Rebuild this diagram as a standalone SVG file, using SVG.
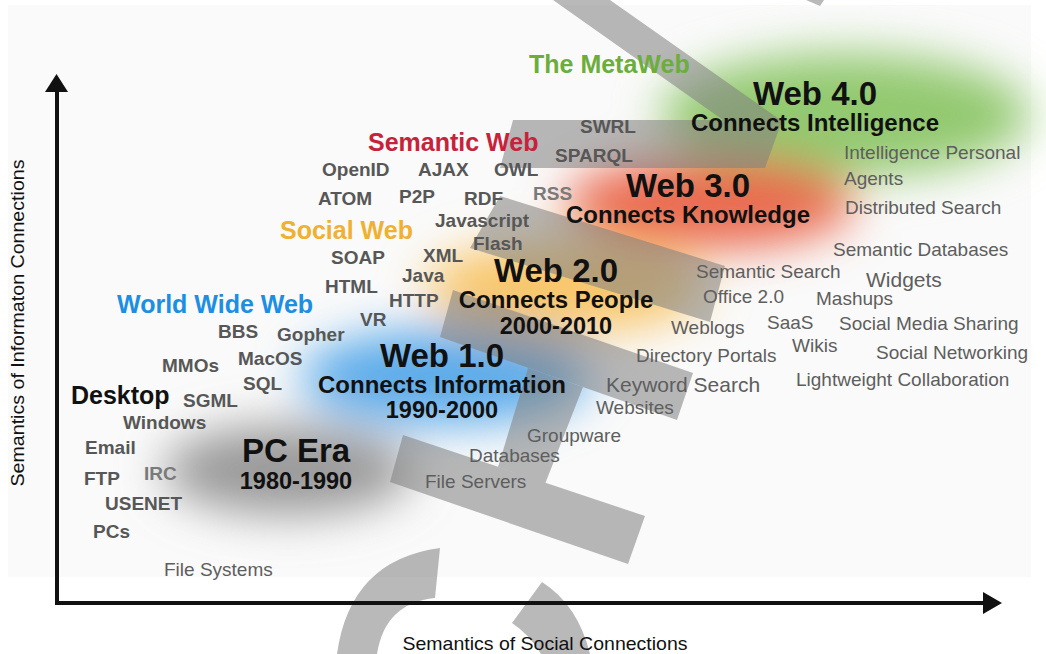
<svg xmlns="http://www.w3.org/2000/svg" width="1046" height="654" viewBox="0 0 1046 654">
<defs>
<filter id="blur" x="-60%" y="-100%" width="220%" height="300%"><feGaussianBlur stdDeviation="23"/></filter>
<style>
text{font-family:"Liberation Sans",Arial,Helvetica,sans-serif}
.era{font-weight:bold;font-size:25px}
.big{font-weight:bold;font-size:33px;fill:#111;text-anchor:middle}
.sub{font-weight:bold;font-size:24px;fill:#111;text-anchor:middle}
.yr{font-weight:bold;font-size:23.5px;fill:#111;text-anchor:middle}
.tag{font-weight:bold;font-size:19px;fill:#575757}
.lbl{font-size:19px;fill:#5e5e5e}
.lg{font-size:21px}
.lt{fill:#7a7a7a}
.axis{font-size:18.5px;fill:#111}
</style>
</defs>
<rect x="0" y="0" width="1046" height="654" fill="#ffffff"/>
<rect x="8" y="5" width="1023" height="572" fill="#fafafa"/>

<g id="blobs" filter="url(#blur)">
<ellipse cx="288" cy="470" rx="125" ry="45" fill="#9a9a9a"/>
<ellipse cx="445" cy="377" rx="145" ry="48" fill="#5dacea"/>
<ellipse cx="565" cy="287" rx="140" ry="46" fill="#f8c66a"/>
<ellipse cx="845" cy="115" rx="185" ry="62" fill="#93c96f"/>
<ellipse cx="710" cy="203" rx="145" ry="46" fill="#ea6a50"/>
</g>

<g id="watermark" opacity="0.55" fill="#808080">
<path d="M513,120 L723,120 L553,0 L610,0 L782,121 L765,168 L500,168 Z"/>
<path d="M806,0 L824,0 L820,6 Z"/>
<path d="M500,196 L725,266 L710,322 L470,248 Z"/>
<path d="M453,290 L693,373 L677,420 L440,337 Z"/>
<path d="M528,368 L583,387 L545,484 L498,467 Z"/>
<path d="M403,435 L645,516 L628,564 L390,482 Z"/>
<path d="M440,548 Q350,560 337,654 L377,654 Q385,603 435,598 Z"/>
<path d="M542,582 Q578,605 590,654 L541,654 Q530,635 512,623 Z"/>
</g>

<g id="connectors">
<line x1="57" y1="603" x2="57" y2="90" stroke="#111" stroke-width="4"/>
<polygon points="45,92 68,92 56.5,74" fill="#111"/>
<line x1="55" y1="603" x2="985" y2="603" stroke="#111" stroke-width="4"/>
<polygon points="983,592 983,614 1002,603" fill="#111"/>
</g>

<g id="axis-labels">
<text class="axis" x="545" y="650" text-anchor="middle" textLength="285" lengthAdjust="spacingAndGlyphs">Semantics of Social Connections</text>
<text class="axis" transform="translate(24,323) rotate(-90)" x="0" y="0" text-anchor="middle" textLength="327" lengthAdjust="spacingAndGlyphs">Semantics of Informaton Connections</text>
</g>

<g id="web40">
<text class="era" x="529" y="73" fill="#6cad3c">The MetaWeb</text>
<text class="big" x="815" y="105">Web 4.0</text>
<text class="sub" x="815" y="131">Connects Intelligence</text>
<text class="lbl" x="844" y="159">Intelligence Personal</text>
<text class="lbl" x="844" y="185">Agents</text>
<text class="lbl" x="845" y="214">Distributed Search</text>
</g>

<g id="web30">
<text class="era" x="368" y="151" fill="#c8213a">Semantic Web</text>
<text class="big" x="688" y="197">Web 3.0</text>
<text class="sub" x="688" y="223">Connects Knowledge</text>
<text class="tag" x="580" y="133">SWRL</text>
<text class="tag" x="555" y="162">SPARQL</text>
<text class="tag" x="322" y="176">OpenID</text>
<text class="tag" x="418" y="176">AJAX</text>
<text class="tag" x="494" y="176">OWL</text>
<text class="tag" x="318" y="205">ATOM</text>
<text class="tag" x="399" y="203">P2P</text>
<text class="tag" x="464" y="205">RDF</text>
<text class="tag lt" x="533" y="200">RSS</text>
<text class="lbl" x="833" y="256">Semantic Databases</text>
<text class="lbl" x="696" y="278">Semantic Search</text>
<text class="lbl lg" x="866" y="287">Widgets</text>
</g>

<g id="web20">
<text class="era" x="280" y="239" fill="#f0b032">Social Web</text>
<text class="big" x="556" y="282">Web 2.0</text>
<text class="sub" x="556" y="308">Connects People</text>
<text class="yr" x="556" y="334">2000-2010</text>
<text class="tag" x="435" y="227">Javascript</text>
<text class="tag" x="473" y="250">Flash</text>
<text class="tag" x="331" y="264">SOAP</text>
<text class="tag" x="423" y="262">XML</text>
<text class="tag" x="402" y="282">Java</text>
<text class="tag" x="325" y="293">HTML</text>
<text class="tag" x="389" y="307">HTTP</text>
<text class="lbl" x="703" y="303">Office 2.0</text>
<text class="lbl" x="816" y="305">Mashups</text>
<text class="lbl" x="767" y="329">SaaS</text>
<text class="lbl" x="839" y="330">Social Media Sharing</text>
<text class="lbl" x="671" y="334">Weblogs</text>
<text class="lbl" x="792" y="352">Wikis</text>
<text class="lbl" x="876" y="359">Social Networking</text>
<text class="lbl" x="636" y="362">Directory Portals</text>
<text class="lbl" x="796" y="386">Lightweight Collaboration</text>
</g>

<g id="web10">
<text class="era" x="117" y="313" fill="#1a8fe3">World Wide Web</text>
<text class="big" x="442" y="367">Web 1.0</text>
<text class="sub" x="442" y="393">Connects Information</text>
<text class="yr" x="442" y="418">1990-2000</text>
<text class="tag" x="360" y="326">VR</text>
<text class="tag" x="218" y="338">BBS</text>
<text class="tag" x="277" y="341">Gopher</text>
<text class="tag" x="238" y="365">MacOS</text>
<text class="tag" x="162" y="372">MMOs</text>
<text class="tag" x="243" y="390">SQL</text>
<text class="tag" x="183" y="407">SGML</text>
<text class="lbl lg" x="606" y="392">Keyword Search</text>
<text class="lbl" x="596" y="414">Websites</text>
<text class="lbl" x="527" y="442">Groupware</text>
</g>

<g id="pc-era">
<text class="era" x="71" y="404" fill="#111">Desktop</text>
<text class="big" x="296" y="462">PC Era</text>
<text class="yr" x="296" y="489">1980-1990</text>
<text class="tag" x="123" y="429">Windows</text>
<text class="tag" x="85" y="454" fill="#666">Email</text>
<text class="tag" x="84" y="485">FTP</text>
<text class="tag lt" x="144" y="480">IRC</text>
<text class="tag" x="105" y="510">USENET</text>
<text class="tag" x="93" y="538">PCs</text>
<text class="lbl" x="164" y="576">File Systems</text>
<text class="lbl" x="469" y="462">Databases</text>
<text class="lbl" x="425" y="488">File Servers</text>
</g>
</svg>
